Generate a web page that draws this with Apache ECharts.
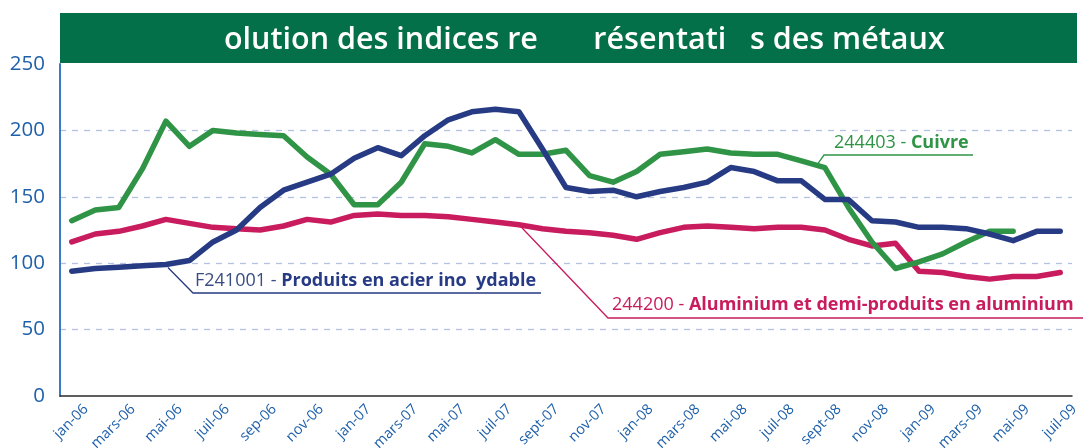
<!DOCTYPE html>
<html>
<head>
<meta charset="utf-8">
<script src="https://cdn.jsdelivr.net/npm/echarts@6/dist/echarts.min.js"></script>
<style>
  html, body { margin: 0; padding: 0; background: #fff; }
  #chart { width: 1083px; height: 448px; }
</style>
</head>
<body>
<div id="chart"></div>
<script>
const months = [
  "jan-06", "févr-06", "mars-06", "avr-06", "mai-06", "juin-06", "juil-06", "août-06", "sep-06", "oct-06", "nov-06", "déc-06",
  "jan-07", "févr-07", "mars-07", "avr-07", "mai-07", "juin-07", "juil-07", "août-07", "sept-07", "oct-07", "nov-07", "déc-07",
  "jan-08", "févr-08", "mars-08", "avr-08", "mai-08", "juin-08", "juil-08", "août-08", "sept-08", "oct-08", "nov-08", "déc-08",
  "jan-09", "févr-09", "mars-09", "avr-09", "mai-09", "juin-09", "juil-09"
];
const cuivre = [
  132, 140, 142, 171, 207, 188, 200, 198, 197, 196, 180, 167,
  144, 144, 161, 190, 188, 183, 193, 182, 182, 185, 166, 161,
  169, 182, 184, 186, 183, 182, 182, 177, 172, 142, 116, 96,
  101, 107, 116, 124, 124, null, null
];
const acierInox = [
  94, 96, 97, 98, 99, 102, 116, 125, 142, 155, 161, 167,
  179, 187, 181, 196, 208, 214, 216, 214, 186, 157, 154, 155,
  150, 154, 157, 161, 172, 169, 162, 162, 148, 148, 132, 131,
  127, 127, 126, 122, 117, 124, 124
];
const aluminium = [
  116, 122, 124, 128, 133, 130, 127, 126, 125, 128, 133, 131,
  136, 137, 136, 136, 135, 133, 131, 129, 126, 124, 123, 121,
  118, 123, 127, 128, 127, 126, 127, 127, 125, 118, 113, 115,
  94, 93, 90, 88, 90, 90, 93
];
const yTicks = [0, 50, 100, 150, 200, 250];

const green = "#2f9446";
const navy = "#263b84";
const crimson = "#c81c5e";
const labelBlue = "#1f60aa";
const font = "'Open Sans', 'Noto Sans', sans-serif";

const chart = echarts.init(document.getElementById("chart"));

function lineSeries(name, data, color) {
  return {
    name: name,
    type: "line",
    data: data,
    symbol: "none",
    smooth: false,
    connectNulls: false,
    lineStyle: { color: color, width: 5.5, cap: "round", join: "round" },
    emphasis: { disabled: true }
  };
}

chart.setOption({
  animation: false,
  grid: { left: 60, right: 11, top: 64, bottom: 52, outerBoundsMode: "none", containLabel: false },
  xAxis: {
    type: "category",
    data: months,
    boundaryGap: true,
    axisLine: { lineStyle: { color: "#2b2b2b", width: 1.5 } },
    axisTick: { inside: true, length: 7, interval: 0, lineStyle: { color: "#2b2b2b", width: 1.5 } },
    axisLabel: {
      interval: 1,
      rotate: 45,
      margin: 25,
      padding: [0, -20, 0, 0],
      color: labelBlue,
      fontSize: 14.5,
      fontFamily: font
    },
    splitLine: { show: false }
  },
  yAxis: {
    type: "value",
    min: yTicks[0],
    max: yTicks[yTicks.length - 1],
    interval: 50,
    axisLine: { show: true, lineStyle: { color: "#3b7cc6", width: 2 } },
    axisTick: { show: false },
    axisLabel: { color: labelBlue, fontSize: 20.5, fontFamily: font, margin: 15 },
    splitLine: {
      show: true,
      showMinLine: false,
      showMaxLine: false,
      lineStyle: { color: "#b3c2e2", width: 1.3, type: [6, 6] }
    }
  },
  series: [
    lineSeries("244200 - Aluminium et demi-produits en aluminium", aluminium, crimson),
    lineSeries("244403 - Cuivre", cuivre, green),
    lineSeries("F241001 - Produits en acier inoxydable", acierInox, navy)
  ]
});

// callouts anchored to data points
const ptInox = chart.convertToPixel({ seriesIndex: 2 }, [4, acierInox[4]]);
const ptAlu = chart.convertToPixel({ seriesIndex: 0 }, [19, aluminium[19]]);
const ptCu = chart.convertToPixel({ seriesIndex: 1 }, [32, cuivre[32]]);

chart.setOption({
  graphic: [
    {
      type: "rect",
      z: 100,
      shape: { x: 60, y: 13, width: 1017, height: 50 },
      style: { fill: "#04704a" }
    },
    {
      type: "text",
      z: 101,
      x: 224,
      y: 40,
      style: {
        text: "olution des indices re       résentati   s des métaux",
        fill: "#fff",
        font: "600 30.5px " + font,
        textAlign: "left",
        textVerticalAlign: "middle"
      }
    },
    // Cuivre
    {
      type: "polyline",
      z: 50,
      shape: { points: [[ptCu[0] - 7, ptCu[1] - 4], [824, 155], [973, 155]] },
      style: { stroke: green, lineWidth: 1.3, fill: null }
    },
    {
      type: "text",
      z: 50,
      x: 834,
      y: 143,
      style: {
        text: "{r|244403 - }{b|Cuivre}",
        textVerticalAlign: "middle",
        rich: {
          r: { fill: green, font: "18px " + font },
          b: { fill: green, font: "bold 18px " + font }
        }
      }
    },
    // acier inoxydable
    {
      type: "polyline",
      z: 50,
      shape: { points: [[ptInox[0] + 2, ptInox[1] + 3], [193, 293], [541, 293]] },
      style: { stroke: navy, lineWidth: 1.3, fill: null }
    },
    {
      type: "text",
      z: 50,
      x: 195,
      y: 281,
      style: {
        text: "{r|F241001 - }{b|Produits en acier ino  ydable}",
        textVerticalAlign: "middle",
        rich: {
          r: { fill: "#3a4d80", font: "18px " + font },
          b: { fill: navy, font: "bold 18px " + font }
        }
      }
    },
    // aluminium
    {
      type: "polyline",
      z: 50,
      shape: { points: [[ptAlu[0] + 2, ptAlu[1] + 2], [608, 318], [1083, 318]] },
      style: { stroke: crimson, lineWidth: 1.3, fill: null }
    },
    {
      type: "text",
      z: 50,
      x: 612,
      y: 305,
      style: {
        text: "{r|244200 - }{b|Aluminium et demi-produits en aluminium}",
        textVerticalAlign: "middle",
        rich: {
          r: { fill: crimson, font: "18px " + font },
          b: { fill: crimson, font: "bold 18px " + font }
        }
      }
    }
  ]
});
</script>
</body>
</html>
